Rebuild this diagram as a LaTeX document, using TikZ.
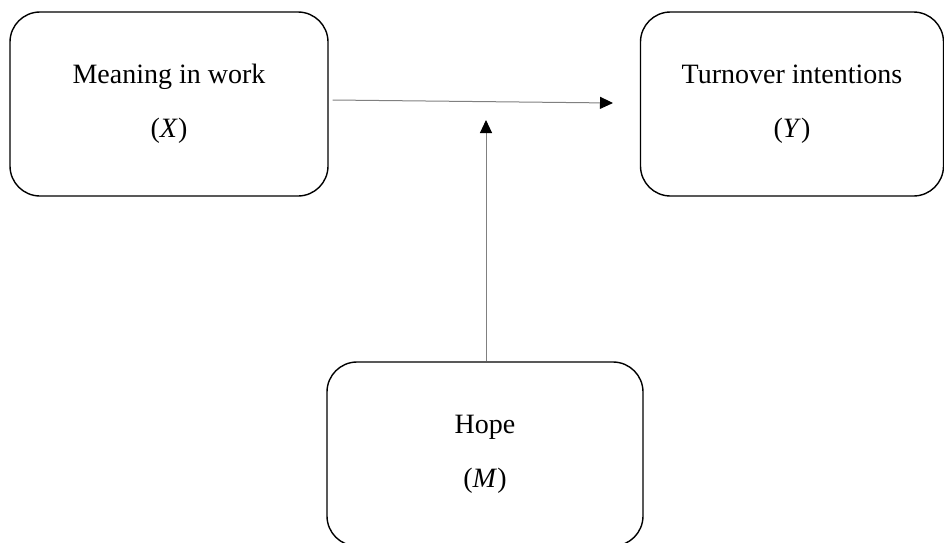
\documentclass[tikz,border=0pt]{standalone}
\usepackage{fontspec}
\setmainfont{Liberation Serif}
\usetikzlibrary{positioning,arrows.meta}

\begin{document}
\begin{tikzpicture}[x=0.5pt,y=-0.5pt]
% Define styles for nodes and edges
\tikzstyle{var} = [rectangle, rounded corners=15pt, draw, line width=0.7pt, minimum width=159pt, minimum height=92pt, align=center, font=\fontsize{14}{17}\selectfont]
\tikzstyle{arrow} = [draw=gray, line width=0.5pt, -{Triangle[color=black,length=6.5pt,width=6pt]}]

\useasboundingbox (0,0) rectangle (944,542);

% Nodes
\node[var] (meaning) at (169,104) {Meaning in work\\[10pt](\textit{X})};
\node[var, right of=meaning, node distance=311.5pt, minimum width=151.5pt] (turnover) {Turnover intentions\\[10pt](\textit{Y})};
\node[var, minimum width=158pt] (hope) at (485,454) {Hope\\[10pt](\textit{M})};
\coordinate (xy) at (613,103);
\coordinate (mod) at (486,120);

% Edges
\draw[arrow] ([xshift=2pt,yshift=2pt]meaning.east) -- (xy);
\draw[arrow] (hope.north -| mod) -- (mod);
\end{tikzpicture}
\end{document}
